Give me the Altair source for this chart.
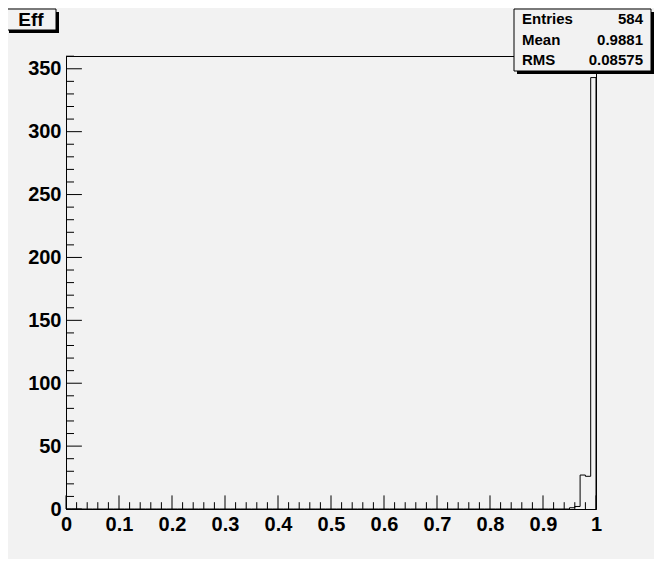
import altair as alt
import pandas as pd

# ---- data ----
n_bins = 100
x_range = [0.0, 1.0]
filled_bin_lo = [0.95, 0.96, 0.97, 0.98, 0.99]
filled_counts = [1, 2, 27, 26, 343]
y_top = 360.15

x_tick_labels = [0, 0.1, 0.2, 0.3, 0.4, 0.5, 0.6, 0.7, 0.8, 0.9, 1.0]
y_tick_labels = [0, 50, 100, 150, 200, 250, 300, 350]
x_minor_step = 0.02
y_minor_step = 10

title_text = "Eff"
stat_names = ["Entries", "Mean", "RMS"]
stat_values = ["584", "0.9881", "0.08575"]

# ---- build tables ----
bin_w = (x_range[1] - x_range[0]) / n_bins
counts = [0] * n_bins
for lo, c in zip(filled_bin_lo, filled_counts):
    counts[int(round((lo - x_range[0]) / bin_w))] = c
pts = []
for i in range(n_bins):
    pts.append({"i": i, "x": x_range[0] + i * bin_w, "y": counts[i]})
pts.append({"i": n_bins, "x": x_range[1], "y": 0})
hist_df = pd.DataFrame(pts)

x_all = [round(k * x_minor_step, 4) for k in range(int(round(1 / x_minor_step)) + 1)]
x_major = pd.DataFrame({"v": x_tick_labels})
x_minor = pd.DataFrame({"v": [v for v in x_all if round(v * 10, 6) != round(v * 10)]})
y_all = list(range(0, 361, y_minor_step))
y_major = pd.DataFrame({"v": y_tick_labels})
y_minor = pd.DataFrame({"v": [v for v in y_all if v % 50 != 0]})

W, H = 530, 453
BG = "#f2f2f2"
FONT = "Liberation Sans"

xs = alt.Scale(domain=x_range, nice=False, zero=False)
ys = alt.Scale(domain=[0, y_top], nice=False, zero=True)

x_axis = alt.Axis(values=x_tick_labels, format="~g", ticks=False, grid=False,
                  labelFont=FONT, labelFontWeight="bold", labelFontSize=20,
                  labelColor="black", labelPadding=5, domainColor="black",
                  labelFlush=False, title=None, labelBaseline="top",
                  labelOverlap=False)
y_axis = alt.Axis(values=y_tick_labels, ticks=False, grid=False,
                  labelFont=FONT, labelFontWeight="bold", labelFontSize=20,
                  labelColor="black", labelPadding=5, domainColor="black",
                  title=None, labelOverlap=False, labelFlush=False)

hist = alt.Chart(hist_df).mark_line(interpolate="step-after", color="black",
                                    strokeWidth=1).encode(
    x=alt.X("x:Q", scale=xs, axis=x_axis),
    y=alt.Y("y:Q", scale=ys, axis=y_axis),
    order="i:Q",
)

def xticks(df, length):
    return alt.Chart(df).mark_rule(color="black", strokeWidth=1).encode(
        x=alt.X("v:Q", scale=xs, axis=x_axis),
        y=alt.value(H), y2=alt.value(H - length))

def yticks(df, length):
    return alt.Chart(df).mark_rule(color="black", strokeWidth=1).encode(
        y=alt.Y("v:Q", scale=ys, axis=y_axis),
        x=alt.value(0), x2=alt.value(length))

one = pd.DataFrame({"t": [title_text]})

def box(x0, y0, x1, y1, shadow=3):
    sh = alt.Chart(one).mark_rect(fill="black").encode(
        x=alt.value(x0 + shadow), x2=alt.value(x1 + shadow),
        y=alt.value(y0 + shadow), y2=alt.value(y1 + shadow))
    bx = alt.Chart(one).mark_rect(fill=BG, stroke="black", strokeWidth=1).encode(
        x=alt.value(x0), x2=alt.value(x1), y=alt.value(y0), y2=alt.value(y1))
    return [sh, bx]

layers = [hist,
          xticks(x_major, 13.6), xticks(x_minor, 6.8),
          yticks(y_major, 15.9), yticks(y_minor, 8)]

# title box
layers += box(-60, -47, -10, -26)
layers.append(alt.Chart(one).mark_text(font=FONT, fontSize=19, fontWeight="bold",
                                       color="black", align="center",
                                       baseline="middle").encode(
    x=alt.value(-35), y=alt.value(-36), text="t:N"))

# stats box
layers += box(448, -47, 585, 15)
row_y = [-37, -16, 4]
for nm, val, yy in zip(stat_names, stat_values, row_y):
    d = pd.DataFrame({"n": [nm], "v": [val]})
    layers.append(alt.Chart(d).mark_text(font=FONT, fontSize=15, fontWeight="bold",
                                         color="black", align="left",
                                         baseline="middle").encode(
        x=alt.value(456), y=alt.value(yy), text="n:N"))
    layers.append(alt.Chart(d).mark_text(font=FONT, fontSize=15, fontWeight="bold",
                                         color="black", align="right",
                                         baseline="middle").encode(
        x=alt.value(577), y=alt.value(yy), text="v:N"))

chart = alt.layer(*layers).properties(
    width=W, height=H,
    autosize=alt.AutoSizeParams(type="none"),
    padding={"left": 58, "top": 48, "right": 58, "bottom": 50},
    background=BG,
).configure_view(stroke="black", strokeWidth=1, fill=BG)

chart.save("out.html", embed_options={"renderer": "svg", "actions": False})
